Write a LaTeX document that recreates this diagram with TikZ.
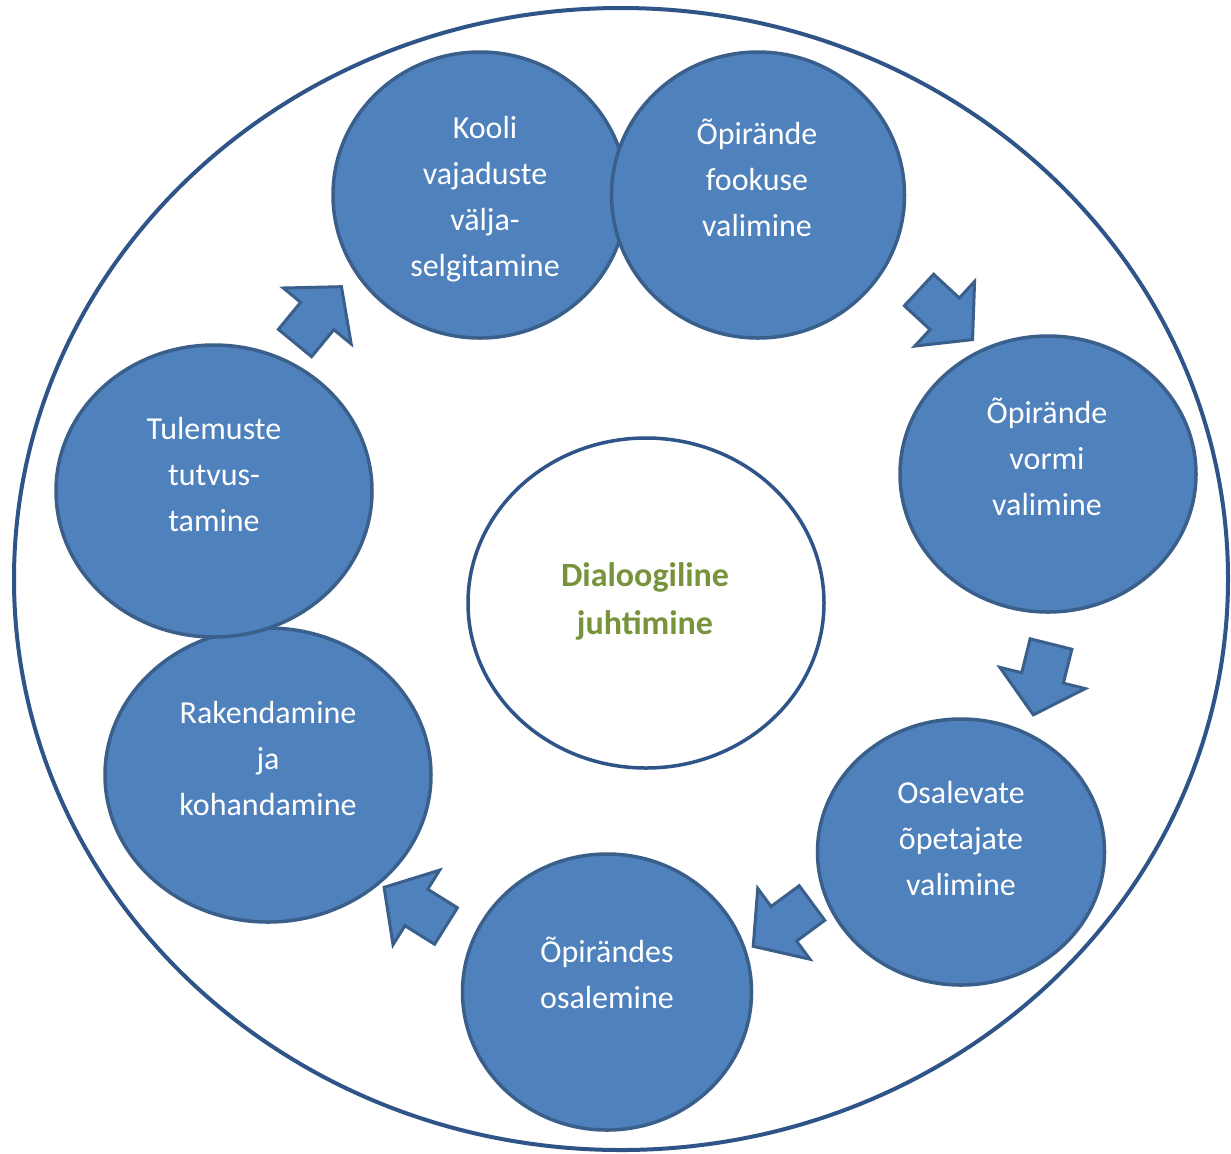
\documentclass[tikz,border=0pt]{standalone}
\usepackage{fontspec}
\setmainfont{Carlito}
\usetikzlibrary{shapes.geometric}
\definecolor{bubblefill}{HTML}{4F81BD}
\definecolor{bubbleline}{HTML}{3A5F8B}
\definecolor{rimline}{HTML}{2F5487}
\definecolor{hubtext}{HTML}{77933C}
\begin{document}
\begin{tikzpicture}[x=0.5pt, y=-0.5pt]
	\tikzstyle{bubble}=[ellipse,draw=bubbleline,fill=bubblefill,line width=1.75pt,inner sep=0pt]
	\tikzstyle{lbl}=[text=white,align=center,font=\fontsize{16}{23}\selectfont]
	\tikzstyle{arrowfill}=[draw=bubbleline,fill=bubblefill,line width=1.5pt,line join=miter]
	\tikzset{blockarrow/.pic={
		\draw[arrowfill] (0,-21.5) -- (35,-21.5) -- (35,-44) -- (73,0) -- (35,44) -- (35,21.5) -- (0,21.5) -- cycle;
	}}

	\useasboundingbox[fill=white] (0,0) rectangle (1231,1153);

	% outer ring
	\node [ellipse,draw=rimline,line width=2pt,minimum width=607pt,minimum height=571pt,inner sep=0pt] (rim) at (621,579) {};

	% arrows between the stages
	\pic [rotate=50.5] (a1) at (295,343) {blockarrow};
	\pic [rotate=-42.8] (a2) at (919,290) {blockarrow};
	\pic [rotate=-104] (a3) at (1051,644) {blockarrow};
	\pic [rotate=-143.6] (a4) at (812,903) {blockarrow};
	\pic [rotate=148] (a5) at (446,926) {blockarrow};

	% stages
	\node [bubble,minimum width=147pt,minimum height=143pt] (s1) at (480,195) {};
	\node [bubble,minimum width=146.5pt,minimum height=143pt] (s2) at (758,195) {};
	\node [bubble,minimum width=148pt,minimum height=138pt] (s3) at (1048,474) {};
	\node [bubble,minimum width=143.5pt,minimum height=133pt] (s4) at (961,852) {};
	\node [bubble,minimum width=144.5pt,minimum height=138pt] (s5) at (607,992) {};
	\node [bubble,minimum width=163pt,minimum height=147pt] (s6) at (268,775) {};
	\node [bubble,minimum width=158pt,minimum height=146pt] (s7) at (214,491) {};

	\node [lbl] (t1) at (485,199) {Kooli\\vajaduste\\välja-\\selgitamine};
	\node [lbl] (t2) at (757,178) {Õpirände\\fookuse\\valimine};
	\node [lbl] (t3) at (1047,457) {Õpirände\\vormi\\valimine};
	\node [lbl] (t4) at (961,838) {Osalevate\\õpetajate\\valimine};
	\node [lbl] (t5) at (607,973) {Õpirändes\\osalemine};
	\node [lbl] (t6) at (268,758) {Rakendamine\\ja\\kohandamine};
	\node [lbl] (t7) at (214,474) {Tulemuste\\tutvus-\\tamine};

	% centre
	\node [ellipse,draw=rimline,fill=white,line width=1.75pt,minimum width=178pt,minimum height=165pt,inner sep=0pt] (hub) at (646,603) {};
	\node [text=hubtext,align=center,font=\bfseries\fontsize{17}{24}\selectfont] (hubtxt) at (645,601) {Dialoogiline\\juhtimine};

\end{tikzpicture}
\end{document}
